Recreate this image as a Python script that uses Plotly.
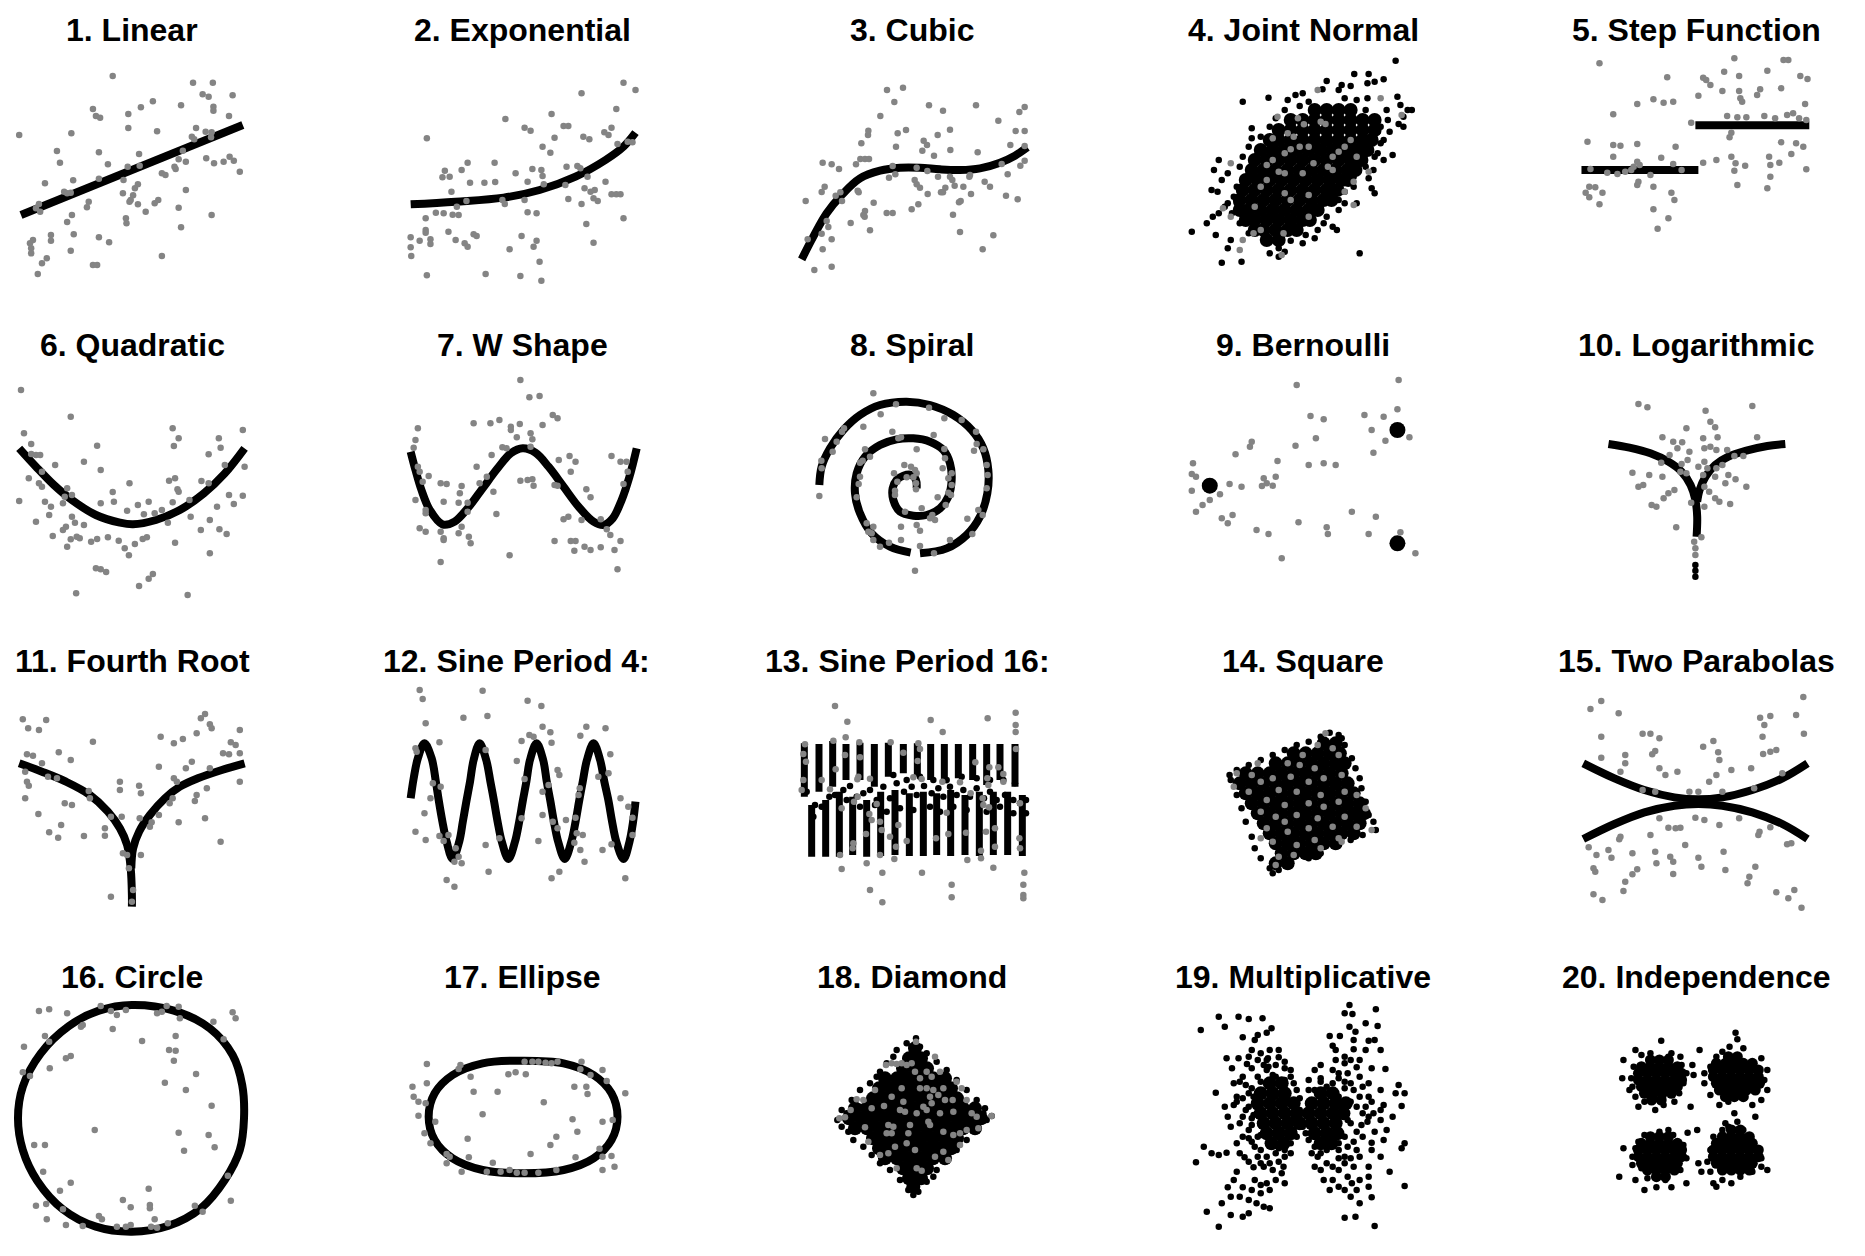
import plotly.graph_objects as go

W, H = 1865, 1256
GRAY = "#848484"

titles = ["1. Linear", "2. Exponential", "3. Cubic", "4. Joint Normal", "5. Step Function",
          "6. Quadratic", "7. W Shape", "8. Spiral", "9. Bernoulli", "10. Logarithmic",
          "11. Fourth Root", "12. Sine Period 4:", "13. Sine Period 16:", "14. Square", "15. Two Parabolas",
          "16. Circle", "17. Ellipse", "18. Diamond", "19. Multiplicative", "20. Independence"]

# ---------------- data (panel units) ----------------
p1_line = [(35,645),(405,375)]
p1_gray = [(188,228),(322,248),(355,248),(338,283),(348,290),(388,286),(255,304),(235,322),(214,342),(155,327),(160,348),(167,353),(356,320),(356,332),(302,316),(382,348),(32,405),(119,400),(214,384),(262,394),(327,384),(343,395),(353,397),(352,412),(320,410),(324,418),(95,453),(165,457),(232,462),(100,488),(180,493),(305,452),(298,478),(344,475),(357,490),(373,485),(383,470),(390,482),(400,515),(270,520),(276,525),(291,500),(293,507),(310,485),(122,541),(75,550),(165,536),(206,540),(230,553),(225,565),(205,580),(222,586),(218,600),(107,575),(112,580),(118,578),(148,605),(145,622),(230,613),(243,635),(258,610),(264,600),(216,605),(298,623),(310,570),(353,645),(210,655),(211,670),(120,645),(112,666),(65,612),(67,635),(60,625),(55,720),(50,730),(52,745),(52,760),(85,705),(85,722),(123,703),(165,712),(182,727),(118,752),(78,775),(70,790),(63,822),(155,795),(162,795),(270,768),(302,682),(213,500),(233,497)]

p2_curve = [(685,613),(760,605),(840,593),(900,570),(960,530),(1010,480),(1040,440),(1060,398)]
p2_gray = [(1040,248),(1060,270),(970,280),(1028,327),(920,342),(843,357),(875,383),(885,392),(940,378),(948,378),(1020,383),(1008,397),(1015,405),(925,413),(973,410),(983,418),(712,415),(905,440),(918,458),(1030,432),(1047,425),(1055,427),(780,488),(825,488),(742,512),(770,510),(738,532),(750,530),(888,507),(903,510),(945,500),(963,498),(968,505),(860,520),(880,545),(905,528),(907,553),(980,530),(1010,545),(784,548),(808,548),(826,546),(753,575),(943,555),(975,565),(985,575),(992,570),(1020,583),(1028,583),(1035,583),(778,603),(838,600),(842,612),(875,600),(948,597),(970,612),(990,595),(997,603),(762,620),(727,638),(740,640),(755,644),(765,645),(710,655),(880,637),(895,640),(710,690),(710,698),(685,712),(700,722),(718,718),(718,732),(685,742),(686,768),(748,695),(760,720),(775,730),(780,740),(790,703),(795,708),(870,708),(895,722),(890,740),(850,748),(978,672),(1040,655),(990,728),(900,785),(712,826),(810,822),(868,828),(903,842)]

p3_curve = [(65,658),(100,590),(140,520),(185,465),(240,415),(300,392),(360,383),(420,383),(480,388),(540,390),(600,385),(660,368),(705,347),(742,322)]
p3_gray = [(321,150),(369,143),(343,186),(447,196),(489,212),(588,196),(734,201),(718,216),(655,242),(301,228),(265,272),(264,285),(378,270),(353,280),(473,285),(510,269),(707,273),(734,273),(244,310),(348,320),(431,302),(441,315),(427,332),(511,330),(462,347),(593,337),(691,315),(734,318),(241,357),(255,357),(267,357),(128,368),(155,373),(177,387),(228,373),(338,378),(410,383),(442,393),(665,372),(721,377),(734,362),(327,413),(346,403),(474,410),(510,410),(517,420),(568,410),(570,405),(683,403),(404,420),(410,433),(420,443),(496,443),(489,457),(524,437),(550,440),(614,425),(630,440),(134,440),(125,456),(167,467),(181,457),(233,452),(236,457),(443,462),(483,457),(573,462),(678,467),(713,478),(77,483),(186,483),(281,488),(537,487),(542,483),(415,493),(395,508),(320,519),(338,519),(255,513),(250,525),(254,530),(519,524),(212,549),(140,543),(145,561),(270,571),(125,581),(540,576),(640,586),(83,598),(155,598),(128,628),(608,628),(103,690),(155,680)]

p4_black = [(785,182),(765,238),(750,245),(738,250),(716,222),(740,222),(710,258),(695,255),(690,270),(670,243),(663,268),(630,280),(618,285),(605,300),(573,293),(530,305),(625,318),(640,305),(700,295),(720,300),(738,295),(788,290),(793,315),(805,330),(812,330),(798,350),(790,372),(798,380),(770,330),(760,380),(755,395),(745,420),(760,430),(780,465),(765,480),(755,460),(748,510),(740,535),(750,580),(745,565),(720,610),(700,610),(690,630),(715,560),(687,690),(680,680),(665,670),(650,715),(630,730),(610,722),(600,755),(590,770),(575,760),(528,785),(495,788),(510,720),(485,705),(445,695),(470,670),(480,650),(490,640),(500,620),(478,570),(488,575),(495,540),(482,510),(490,480),(505,520),(515,590),(520,610),(545,385),(545,415),(540,440),(530,470),(525,500),(540,530),(560,560),(555,600),(560,640),(545,655),(565,680),(585,700),(600,690),(580,650),(585,620),(725,760),(590,745),(505,745),(600,330),(585,355),(575,380),(560,410),(735,330),(772,360),(775,395),(765,420),(750,470),(735,500),(715,530),(700,575),(690,600),(670,650),(655,690),(635,705),(540,700),(525,670),(512,640),(520,560),(505,610)]
p4_core = [(650,330),(670,330),(690,330),(710,330),
           (610,360),(630,360),(650,360),(670,360),(690,360),(710,360),(730,360),(750,360),
           (590,390),(610,390),(630,390),(650,390),(670,390),(690,390),(710,390),(730,390),(750,390),
           (575,420),(590,420),(610,420),(630,420),(650,420),(670,420),(690,420),(710,420),(730,420),(745,420),
           (560,450),(580,450),(600,450),(620,450),(640,450),(660,450),(680,450),(700,450),(720,450),(738,450),
           (550,480),(570,480),(590,480),(610,480),(630,480),(650,480),(670,480),(690,480),(710,480),(728,480),
           (545,510),(565,510),(585,510),(605,510),(625,510),(645,510),(665,510),(685,510),(705,510),(718,510),
           (535,540),(555,540),(575,540),(595,540),(615,540),(635,540),(655,540),(675,540),(695,540),(706,540),
           (530,570),(550,570),(570,570),(590,570),(610,570),(630,570),(650,570),(670,570),(688,570),
           (525,600),(545,600),(565,600),(585,600),(605,600),(625,600),(645,600),(665,600),(678,600),
           (525,630),(540,630),(560,630),(580,630),(600,630),(620,630),(640,630),(655,630),
           (535,660),(550,660),(570,660),(590,660),(610,660),(630,660),(642,660),
           (550,690),(565,690),(585,690),(605,690),(620,690),
           (570,720),(590,720)]
p4_gray = [(655,270),(760,295),(795,345),(588,350),(622,355),(632,373),(660,365),(668,372),(580,415),(605,400),(615,410),(640,440),(625,440),(610,448),(600,460),(580,480),(570,495),(590,515),(600,520),(630,520),(648,490),(680,470),(672,500),(690,455),(700,440),(710,420),(720,470),(740,515),(715,545),(700,575),(640,585),(600,580),(560,560),(550,620),(560,690),(548,700),(530,720),(525,750),(598,700),(595,765),(510,650),(497,625),(640,650),(715,615),(610,600),(680,510),(570,540),(510,490)]

p5_lines = [[(1095,510),(1290,510)], [(1285,376),(1475,376)]]
p5_gray = [(1125,190),(1350,175),(1432,180),(1440,180),(1238,232),(1298,233),(1303,240),(1333,215),(1358,228),(1405,212),(1460,228),(1472,237),(1310,255),(1290,287),(1330,273),(1358,273),(1393,268),(1388,285),(1428,265),(1188,312),(1215,298),(1232,308),(1248,305),(1360,295),(1363,305),(1468,312),(1148,343),(1338,348),(1355,352),(1370,352),(1400,348),(1418,355),(1438,345),(1448,340),(1458,355),(1470,360),(1278,368),(1345,398),(1342,412),(1105,425),(1148,435),(1160,437),(1188,432),(1252,440),(1148,470),(1188,485),(1192,495),(1228,473),(1248,492),(1298,488),(1320,480),(1345,470),(1352,490),(1368,497),(1408,470),(1410,495),(1425,488),(1445,462),(1465,440),(1428,427),(1453,430),(1470,508),(1350,512),(1110,507),(1138,518),(1155,522),(1168,515),(1178,510),(1182,500),(1210,525),(1262,510),(1190,545),(1188,555),(1215,560),(1108,560),(1118,562),(1102,578),(1130,578),(1108,592),(1245,578),(1250,600),(1125,613),(1215,628),(1240,655),(1222,686),(1355,555),(1405,565),(1410,530)]

p6_curve = [(32,385),(60,440),(90,495),(120,540),(160,585),(200,608),(222,613),(260,600),(300,570),(340,520),(375,460),(408,385)]
p6_gray = [(35,210),(118,290),(40,340),(52,372),(52,402),(60,405),(67,405),(162,377),(288,325),(298,355),(290,378),(405,330),(365,355),(368,383),(348,403),(375,435),(408,440),(92,435),(140,425),(168,450),(70,455),(48,475),(65,490),(70,500),(112,505),(120,525),(108,530),(105,550),(75,545),(85,560),(82,585),(32,543),(60,605),(110,620),(105,630),(120,590),(125,608),(140,615),(88,648),(118,658),(128,650),(133,655),(112,680),(152,665),(162,657),(180,652),(198,662),(208,685),(215,706),(225,672),(238,657),(245,652),(216,490),(188,516),(190,545),(168,550),(212,572),(230,555),(240,583),(248,545),(258,580),(270,570),(288,547),(296,508),(298,515),(282,482),(292,475),(316,540),(336,483),(348,490),(318,590),(350,600),(335,630),(366,628),(378,642),(362,560),(382,525),(390,552),(405,527),(280,608),(292,668),(350,700),(160,745),(168,748),(177,756),(255,762),(248,776),(232,798),(127,820),(313,825)]

p7_curve = [(685,395),(693,450),(703,510),(717,570),(738,613),(758,605),(780,565),(805,505),(830,445),(852,400),(872,385),(893,398),(915,440),(940,500),(965,560),(990,605),(1007,615),(1022,595),(1037,540),(1050,470),(1062,385)]
p7_gray = [(868,180),(883,232),(900,228),(697,325),(790,310),(818,310),(833,300),(852,320),(867,312),(852,330),(885,340),(905,315),(922,285),(930,295),(862,352),(690,383),(693,360),(888,358),(838,382),(845,385),(885,380),(820,405),(950,408),(932,420),(960,425),(1020,408),(1035,425),(1045,425),(697,440),(705,485),(700,455),(715,468),(735,490),(745,492),(795,440),(812,470),(800,490),(823,515),(770,498),(767,520),(868,482),(880,480),(888,478),(890,497),(925,495),(930,497),(952,455),(978,508),(985,532),(1047,455),(1040,492),(693,540),(710,570),(710,580),(740,545),(780,548),(765,548),(780,575),(828,582),(948,590),(940,598),(970,600),(1002,598),(1012,628),(700,625),(710,635),(735,635),(740,655),(770,620),(765,640),(740,660),(782,650),(785,670),(925,663),(952,663),(960,663),(975,680),(985,690),(1002,682),(958,692),(1025,690),(1035,663),(1018,645),(850,706),(735,726),(1030,748)]

p8_outer = [(420,580),(500,565),(560,525),(600,470),(622,400),(625,330),(610,265),(575,210),(520,165),(450,135),(380,125),(300,135),(240,165),(190,210),(150,265),(125,320),(118,375)]
p8_inner = [(392,578),(330,560),(275,520),(240,460),(225,400),(230,340),(255,290),(300,255),(350,238),(400,235),(450,245),(490,270),(510,310),(515,360),(505,410),(480,445),(440,465),(400,467),(360,455),(340,420),(338,385),(350,360),(370,347),(395,345),(408,360),(410,385)]
p8_gray = [(280,100),(348,133),(302,163),(447,143),(493,175),(545,180),(588,215),(250,200),(192,205),(186,215),(135,237),(170,245),(158,275),(124,302),(125,325),(118,408),(337,215),(355,235),(363,232),(461,225),(590,252),(610,268),(582,272),(255,268),(270,290),(248,302),(240,308),(410,268),(493,267),(495,295),(488,325),(515,340),(505,355),(515,375),(505,398),(513,405),(620,315),(623,345),(620,385),(240,350),(236,372),(230,412),(342,340),(373,315),(393,320),(405,330),(410,340),(400,352),(380,352),(352,365),(345,392),(345,405),(408,370),(408,388),(473,412),(497,435),(425,445),(375,455),(457,465),(465,480),(450,475),(595,450),(608,465),(562,476),(577,522),(510,540),(260,490),(280,500),(265,515),(275,520),(280,540),(300,560),(327,548),(363,500),(363,540),(410,495),(420,512),(420,558),(462,580),(405,632)]

p9_big = [(475,497),(788,330),(788,670)]
p9_gray = [(620,195),(790,180),(788,268),(733,285),(765,290),(643,288),(665,298),(745,330),(808,352),(768,362),(652,355),(545,365),(542,380),(618,377),(518,403),(748,398),(588,423),(640,435),(665,430),(685,435),(447,430),(445,462),(452,470),(445,512),(508,492),(528,500),(565,475),(585,470),(570,490),(580,497),(562,498),(492,523),(475,540),(463,555),(452,575),(495,595),(505,610),(513,585),(712,575),(752,590),(623,607),(670,622),(672,642),(553,630),(573,642),(740,642),(793,637),(818,700),(595,715)]

p10_lines = [[(1140,372),(1175,383),(1210,400),(1240,425),(1262,455),(1277,495),(1285,540),(1288,590),(1287,650)],
             [(1435,372),(1405,378),(1370,392),(1340,410),(1318,435),(1302,470),(1292,510),(1288,545)]]
p10_black = [(1285,735),(1285,752),(1285,770)]
p10_gray = [(1190,252),(1205,262),(1302,272),(1380,258),(1310,305),(1318,322),(1270,325),(1230,352),(1248,365),(1263,367),(1298,355),(1322,352),(1388,352),(1255,385),(1242,405),(1275,395),(1300,385),(1310,380),(1320,390),(1338,390),(1350,408),(1365,408),(1228,428),(1262,432),(1272,420),(1290,440),(1300,425),(1305,445),(1320,445),(1330,435),(1180,458),(1208,465),(1230,470),(1260,455),(1270,460),(1298,465),(1318,470),(1340,465),(1352,478),(1335,490),(1370,500),(1190,500),(1198,495),(1250,510),(1240,520),(1232,535),(1300,500),(1308,515),(1318,535),(1325,545),(1343,552),(1212,555),(1220,560),(1278,548),(1300,560),(1253,622),(1295,652),(1283,665),(1285,685),(1285,705)]

p11_lines = [[(32,385),(70,410),(110,440),(150,480),(180,530),(200,580),(212,630),(218,700),(220,780),(220,815)],
             [(408,385),(370,405),(330,430),(300,455),(275,490),(250,540),(232,590),(222,640),(219,700)]]
p11_gray = [(38,253),(47,280),(65,285),(77,255),(342,237),(335,250),(350,268),(353,280),(328,295),(400,285),(268,305),(290,325),(305,312),(155,320),(385,322),(393,330),(98,352),(118,375),(45,358),(55,362),(70,385),(372,355),(382,358),(400,355),(320,380),(265,395),(310,400),(350,400),(42,410),(80,425),(95,430),(290,430),(295,440),(400,440),(345,460),(45,440),(48,452),(200,440),(232,452),(42,490),(108,505),(120,510),(148,468),(150,490),(200,465),(235,475),(288,490),(283,505),(328,480),(325,498),(342,550),(64,537),(185,545),(203,545),(233,550),(250,575),(253,562),(265,540),(102,570),(82,592),(97,608),(140,603),(175,602),(175,580),(298,562),(368,620),(205,655),(212,660),(235,660),(215,700),(222,765),(185,785),(220,800)]

p12_curve = [(685,490),(690,430),(697,370),(708,325),(720,370),(727,440),(732,498),(738,560),(745,620),(755,672),(766,620),(772,560),(778,498),(784,440),(790,375),(800,325),(811,375),(818,440),(824,498),(830,560),(837,620),(848,672),(859,620),(866,560),(872,498),(878,440),(884,375),(895,325),(906,375),(912,440),(918,498),(924,560),(931,620),(942,672),(953,620),(960,560),(966,498),(972,440),(979,375),(990,325),(1001,375),(1008,440),(1015,498),(1021,560),(1028,620),(1040,672),(1050,620),(1056,560),(1060,500)]
p12_gray = [(700,165),(705,192),(805,167),(880,197),(903,213),(710,265),(773,248),(813,243),(905,275),(918,292),(883,300),(890,305),(978,275),(968,302),(1010,280),(693,340),(695,350),(733,322),(870,318),(920,323),(810,345),(1018,358),(862,378),(875,432),(930,405),(933,420),(915,450),(905,470),(998,425),(1015,415),(967,460),(965,480),(1035,490),(1048,515),(1055,548),(722,445),(735,455),(718,490),(708,535),(870,550),(905,540),(922,560),(944,555),(960,548),(930,580),(962,595),(972,600),(693,590),(710,615),(733,603),(740,618),(760,640),(748,600),(810,630),(833,610),(898,618),(958,623),(1020,628),(1055,600),(1005,645),(765,665),(770,685),(758,680),(968,645),(975,680),(815,710),(920,730),(933,710),(1043,730),(745,735),(758,755)]

# period-16 columns: x, top, bottom
p13_upper_x = [73,117,158,198,240,283,325,370,412,452,493,535,578,620,660,705]
p13_upper_top = [190,192,183,192,188,192,188,192,190,192,192,192,192,192,192,192]
p13_upper_bot = [350,335,320,300,300,320,290,280,290,300,310,295,300,315,300,320]
p13_lower_x = [95,137,178,218,260,302,345,388,430,470,512,555,598,640,683,727]
p13_lower_top = [375,360,335,350,360,335,330,340,335,340,330,345,335,335,335,345]
p13_lower_bot = [530,530,530,525,530,528,525,528,528,525,528,525,528,525,525,528]
p13_black = [(105,375),(125,380),(165,345),(190,330),(210,318),(230,350),(250,340),(270,330),(290,360),(310,320),(330,355),(350,310),(372,335),(395,320),(410,345),(432,318),(455,340),(475,325),(490,350),(510,320),(530,345),(550,330),(570,350),(590,325),(612,355),(630,335),(650,360),(675,345),(700,360),(720,370),(738,360),(80,335),(100,410),(148,350),(240,380),(200,360),(285,375),(320,395),(360,385),(400,390),(450,380),(480,395),(520,380),(560,390),(620,395),(660,380),(700,400),(738,400),(340,285),(380,300),(420,290),(460,300),(500,300),(545,290),(590,295),(630,300),(670,300),(705,310)]
p13_gray = [(165,78),(202,125),(452,120),(488,156),(623,115),(707,98),(707,135),(707,156),(197,172),(238,187),(332,187),(75,193),(70,222),(78,245),(195,225),(160,182),(240,232),(370,218),(420,207),(413,243),(415,190),(586,247),(628,262),(655,262),(708,207),(622,295),(625,315),(670,282),(670,305),(125,300),(150,328),(167,268),(232,298),(270,296),(233,350),(235,290),(400,292),(425,297),(487,305),(540,307),(572,340),(608,355),(610,375),(627,382),(720,370),(65,330),(70,300),(222,365),(185,385),(290,372),(268,402),(300,425),(305,450),(275,420),(258,462),(330,470),(355,435),(348,500),(380,483),(468,475),(505,462),(500,398),(558,458),(618,455),(645,445),(645,500),(718,475),(720,505),(640,563),(603,512),(603,535),(180,525),(220,490),(218,505),(260,550),(300,525),(343,537),(562,540),(185,567),(307,578),(426,578),(515,614),(515,652),(733,578),(730,614),(730,645),(730,655),(270,630),(307,667)]

p14_black = [(690,300),(675,293),(660,305),(640,320),(620,330),(600,345),(580,360),(560,375),(540,390),(520,405),(508,420),(510,435),(545,605),(550,640),(560,670),(575,700),(580,715),(590,705),(610,690),(640,670),(660,655),(690,630),(710,615),(730,600),(752,585),(748,560),(740,540),(735,500),(728,460),(725,430),(718,400),(712,370),(700,330),(695,310),(530,440),(535,560),(520,480),(528,520)]
p14_core = [(665,325),(685,325),
            (615,355),(635,355),(655,355),(675,355),(692,355),
            (585,385),(605,385),(625,385),(645,385),(665,385),(685,385),(700,385),
            (535,415),(555,415),(575,415),(595,415),(615,415),(635,415),(655,415),(675,415),(695,415),
            (525,445),(545,445),(565,445),(585,445),(605,445),(625,445),(645,445),(665,445),(685,445),(705,445),
            (535,475),(555,475),(575,475),(595,475),(615,475),(635,475),(655,475),(675,475),(695,475),(715,475),
            (545,505),(565,505),(585,505),(605,505),(625,505),(645,505),(665,505),(685,505),(705,505),(725,505),
            (555,535),(575,535),(595,535),(615,535),(635,535),(655,535),(675,535),(695,535),(715,535),(732,535),
            (565,565),(585,565),(605,565),(625,565),(645,565),(665,565),(685,565),(705,565),(725,565),
            (575,595),(595,595),(615,595),(635,595),(655,595),(675,595),(695,595),(715,595),
            (585,625),(605,625),(625,625),(645,625),(665,625),(685,625),
            (595,655),(615,655),(635,655),(652,655),
            (585,685),(605,685)]
p14_gray = [(668,295),(655,330),(680,340),(690,360),(555,385),(605,385),(625,390),(520,415),(545,420),(560,440),(580,430),(610,425),(640,440),(665,430),(695,420),(590,465),(620,470),(660,480),(700,470),(720,480),(570,495),(600,510),(640,505),(665,515),(690,500),(560,530),(585,545),(620,540),(655,550),(700,545),(570,580),(605,590),(640,580),(680,575),(720,575),(580,620),(620,630),(650,615),(690,610),(590,665),(615,660),(660,640),(695,620),(745,585),(735,520),(515,455),(540,470),(630,360),(650,400),(600,560),(560,610),(585,690)]

p15_upper = [(1098,385),(1150,430),(1200,465),(1250,487),(1290,493),(1330,487),(1380,465),(1430,430),(1472,385)]
p15_lower = [(1098,612),(1150,567),(1200,532),(1250,512),(1290,507),(1330,512),(1380,532),(1430,567),(1472,612)]
p15_gray = [(1128,198),(1110,222),(1157,235),(1393,248),(1410,243),(1453,240),(1465,186),(1400,270),(1128,305),(1197,296),(1210,296),(1225,310),(1466,296),(1298,335),(1315,318),(1323,352),(1325,375),(1218,348),(1213,358),(1128,368),(1168,360),(1168,385),(1398,357),(1410,350),(1420,345),(1378,400),(1345,405),(1320,420),(1308,440),(1225,400),(1255,410),(1235,420),(1160,410),(1430,415),(1330,470),(1383,460),(1290,470),(1275,470),(1218,470),(1197,465),(1300,555),(1285,548),(1325,570),(1358,550),(1225,550),(1240,578),(1260,578),(1252,580),(1210,600),(1160,605),(1158,613),(1392,590),(1390,600),(1410,577),(1438,628),(1445,625),(1268,630),(1332,650),(1107,637),(1140,645),(1120,660),(1145,668),(1218,650),(1220,685),(1243,665),(1248,680),(1180,655),(1290,668),(1295,695),(1335,705),(1248,717),(1188,703),(1180,718),(1168,740),(1165,768),(1115,700),(1118,710),(1385,695),(1375,725),(1372,745),(1420,772),(1450,765),(1440,790),(1462,818),(1115,778),(1130,795),(1397,305)]

p16_curve = [(220,165),(290,182),(350,235),(388,315),(404,405),(407,505),(400,600),(375,690),(335,775),(280,828),(220,845),(160,830),(105,778),(62,692),(38,600),(30,505),(38,410),(68,310),(115,228),(165,182),(220,165)]
p16_gray = [(65,183),(82,178),(112,190),(168,168),(185,183),(195,195),(210,180),(262,190),(270,185),(278,168),(298,170),(300,205),(135,230),(138,225),(188,237),(237,273),(293,258),(356,215),(388,187),(393,205),(373,268),(75,258),(82,275),(40,290),(110,325),(118,318),(282,300),(293,302),(290,332),(83,355),(38,367),(50,378),(327,372),(275,398),(310,420),(353,467),(158,540),(298,548),(348,555),(358,592),(307,602),(57,585),(75,585),(72,665),(380,677),(118,698),(100,722),(248,716),(205,750),(218,772),(250,765),(250,775),(60,767),(77,762),(385,752),(325,767),(338,785),(105,778),(78,808),(110,825),(138,828),(165,798),(170,808),(195,830),(210,830),(218,825),(258,808),(262,833),(252,830),(280,820)]

p17_curve = [(872,332),(940,340),(990,375),(1020,430),(1030,500),(1020,570),(990,625),(940,660),(872,670),(805,660),(755,625),(725,570),(715,500),(725,430),(755,375),(805,340),(872,332)]
p17_gray = [(712,342),(768,345),(765,357),(785,380),(848,373),(860,367),(877,373),(875,335),(888,335),(898,335),(910,338),(920,340),(930,335),(970,335),(968,358),(985,375),(1005,360),(1012,393),(688,410),(712,400),(958,410),(978,410),(980,432),(1043,430),(690,440),(698,455),(710,460),(790,425),(830,425),(907,457),(805,493),(698,497),(726,515),(955,508),(963,545),(1005,515),(1022,510),(708,550),(718,580),(780,566),(928,560),(918,585),(745,612),(750,620),(782,622),(745,640),(822,638),(885,612),(960,622),(1000,596),(1005,620),(1020,618),(1005,660),(1025,650),(770,665),(812,665),(835,665),(850,660),(862,668),(875,668),(898,668),(928,660)]

p18_black = [(408,115),(395,140),(350,150),(380,130),(300,215),(270,250),(240,270),(215,300),(185,330),(172,360),(185,380),(205,395),(220,420),(250,440),(275,465),(300,490),(330,510),(360,540),(385,570),(400,585),(415,575),(440,545),(470,510),(500,480),(530,450),(560,420),(590,390),(620,360),(635,348),(615,325),(590,300),(560,270),(530,240),(500,210),(470,185),(440,160),(420,140),(340,170),(240,320),(460,530),(570,380),(290,230),(320,190),(200,340),(610,340)]
p18_core = [(405,145),
            (387,175),(423,175),
            (369,205),(405,205),(441,205),
            (315,235),(351,235),(387,235),(423,235),(459,235),(495,235),
            (297,265),(333,265),(369,265),(405,265),(441,265),(477,265),(513,265),
            (279,295),(315,295),(351,295),(387,295),(423,295),(459,295),(495,295),(531,295),
            (225,325),(261,325),(297,325),(333,325),(369,325),(405,325),(441,325),(477,325),(513,325),(549,325),(585,325),
            (207,355),(243,355),(279,355),(315,355),(351,355),(387,355),(423,355),(459,355),(495,355),(531,355),(567,355),(603,355),
            (225,385),(261,385),(297,385),(333,385),(369,385),(405,385),(441,385),(477,385),(513,385),(549,385),(585,385),
            (279,415),(315,415),(351,415),(387,415),(423,415),(459,415),(495,415),(531,415),
            (297,445),(333,445),(369,445),(405,445),(441,445),(477,445),(513,445),
            (315,475),(351,475),(387,475),(423,475),(459,475),(495,475),
            (369,505),(405,505),(441,505),
            (387,535),(423,535),
            (400,560)]
p18_gray = [(408,125),(465,170),(318,195),(335,190),(350,192),(365,190),(380,195),(395,190),(405,215),(420,235),(440,215),(455,230),(480,215),(530,245),(545,265),(365,265),(420,265),(440,265),(460,270),(490,265),(285,270),(230,298),(250,300),(335,290),(450,290),(475,285),(495,300),(518,300),(560,300),(212,330),(275,325),(312,318),(370,305),(360,330),(375,335),(410,340),(430,320),(440,330),(455,310),(480,340),(520,335),(575,340),(590,350),(635,348),(178,355),(195,352),(255,382),(325,375),(340,380),(390,375),(385,400),(445,365),(450,375),(490,395),(520,405),(540,400),(560,390),(595,385),(265,425),(320,400),(335,400),(345,440),(380,430),(405,450),(300,465),(325,460),(350,505),(410,505),(425,512),(465,470),(490,455),(505,480),(540,435)]

p19_black = [(490,200),(523,200),(540,207),(563,205),(500,230),(460,240),(578,235),(570,248),(530,262),(550,270),(555,255),(545,300),(503,325),(523,325),(572,325),(590,322),(512,355),(537,342),(545,355),(573,350),(525,395),(535,405),(545,415),(485,428),(515,465),(520,455),(535,480),(545,505),(510,530),(525,520),(545,525),(540,565),(545,575),(550,590),(520,580),(465,590),(478,610),(490,615),(503,608),(452,637),(533,622),(540,635),(548,652),(565,650),(580,660),(598,650),(575,640),(555,620),(585,610),(600,600),(520,665),(515,690),(505,712),(510,740),(530,712),(545,720),(560,730),(553,760),(565,770),(575,775),(540,790),(530,800),(510,795),(495,760),(470,785),(490,830),(550,690),(570,700),(585,690),
             (708,165),(752,178),(700,190),(713,192),(735,220),(755,228),(708,230),(718,245),(715,270),(740,272),(750,270),(680,287),(685,300),(715,298),(735,300),(760,300),(685,330),(700,340),(720,352),(705,370),(725,380),(768,357),(745,355),(790,405),(800,430),(785,430),(760,420),(740,440),(745,455),(765,465),(795,468),(760,510),(738,515),(728,525),(750,545),(765,570),(745,578),(800,580),(795,595),(720,600),(700,620),(690,625),(670,640),(715,650),(740,650),(775,665),(680,690),(705,680),(712,700),(725,690),(740,680),(720,720),(700,720),(745,742),(725,760),(718,800),(700,803),(750,828),(800,708),(692,258),(675,258),
             (540,430),(530,445),(600,390),(610,380),(620,420),(625,445),(640,390),(660,385),(700,395),(715,420),(720,470),(730,490),(710,520),(720,545),(700,560),(705,590),(690,580),(640,570),(620,560),(610,580),(600,620),(560,600),(555,560),(540,540),(530,500),(540,470),(570,360),(580,375),(555,380),(600,355),(680,360),(670,410),(625,480),(650,420),(665,445),(690,440),(710,455),(585,440),(605,450),(615,505),(630,530),(640,510),(635,550),(595,540),(580,525),(680,560),(690,600),(660,610),(650,590),(570,330),(590,300),(560,310),(690,370),(710,400),
             (555,330),(565,345),(585,345),(600,335),(610,360),(560,395),(548,440),(552,470),(565,495),(548,495),(560,525),(575,545),(560,555),(578,575),(590,595),(570,620),(590,635),(605,560),(615,540),(610,610),(530,560),(525,610),(560,640),(595,670),(575,720),(540,750),(525,740),(605,430),(615,400),(585,380),(530,380),(515,400),(500,470),(505,500),(520,440),(575,300),(540,320),(600,700),(560,705),
             (650,360),(660,345),(700,320),(710,330),(725,330),(690,385),(700,415),(730,410),(740,400),(725,440),(735,470),(748,490),(740,500),(730,560),(715,575),(725,620),(700,640),(680,650),(660,660),(690,660),(710,625),(670,600),(655,620),(745,600),(760,620),(770,540),(780,500),(760,480),(690,710),(675,720),(710,740),(740,710),(665,690),(650,650),(645,610),(690,540),(705,510),(680,400),(660,395),(640,420)]
p19_core = [(575,400),(595,400),
            (560,430),(580,430),(600,430),(660,430),(680,430),
            (555,460),(575,460),(595,460),(615,460),(645,460),(665,460),(685,460),(702,460),
            (560,490),(580,490),(600,490),(620,490),(640,490),(660,490),(680,490),(698,490),
            (565,520),(585,520),(605,520),(625,520),(645,520),(665,520),(685,520),
            (570,550),(590,550),(610,550),(650,550),(670,550),(688,550),
            (578,580),(598,580),(660,580),(678,580)]

p20_core = [(1210,330),(1225,330),(1240,330),(1195,350),(1210,350),(1225,350),(1240,350),(1255,350),
            (1190,370),(1205,370),(1220,370),(1235,370),(1250,370),(1262,370),(1190,390),(1205,390),(1220,390),(1235,390),(1250,390),(1262,390),
            (1195,410),(1210,410),(1225,410),(1240,410),(1255,410),(1200,430),(1215,430),(1230,430),(1245,430),(1212,450),(1228,450),
            (1340,320),(1355,320),(1320,340),(1335,340),(1350,340),(1365,340),(1380,340),(1315,360),(1330,360),(1345,360),(1360,360),(1375,360),(1390,360),
            (1315,380),(1330,380),(1345,380),(1360,380),(1375,380),(1390,380),(1320,400),(1335,400),(1350,400),(1365,400),(1380,400),(1392,400),
            (1325,420),(1340,420),(1355,420),(1370,420),(1385,420),(1335,440),(1350,440),(1365,440),
            (1210,560),(1225,560),(1240,560),(1195,580),(1210,580),(1225,580),(1240,580),(1255,580),
            (1190,600),(1205,600),(1220,600),(1235,600),(1250,600),(1262,600),(1190,620),(1205,620),(1220,620),(1235,620),(1250,620),(1262,620),
            (1195,640),(1210,640),(1225,640),(1240,640),(1255,640),(1205,660),(1220,660),(1235,660),(1250,660),(1220,680),(1235,680),
            (1345,540),(1360,540),(1330,560),(1345,560),(1360,560),(1375,560),(1320,580),(1335,580),(1350,580),(1365,580),(1380,580),
            (1315,600),(1330,600),(1345,600),(1360,600),(1375,600),(1390,600),(1315,620),(1330,620),(1345,620),(1360,620),(1375,620),(1390,620),
            (1320,640),(1335,640),(1350,640),(1365,640),(1380,640),(1330,660),(1345,660),(1360,660),(1375,660)]
p20_black = [(1165,330),(1178,385),(1163,385),(1185,300),(1195,315),(1228,272),(1245,310),(1260,320),(1175,420),(1185,440),(1200,455),(1218,480),(1232,465),(1250,455),(1258,430),(1265,400),(1270,370),(1262,345),(1182,350),(1190,470),(1240,320),(1210,310),(1180,410),(1277,470),(1280,345),
             (1352,248),(1355,268),(1342,290),(1365,295),(1330,305),(1320,320),(1395,325),(1310,350),(1300,370),(1300,400),(1310,435),(1325,465),(1350,490),(1380,465),(1395,450),(1405,420),(1400,390),(1405,360),(1385,500),(1335,520),(1330,540),(1292,300),(1282,375),(1340,455),
             (1200,555),(1190,575),(1185,595),(1165,595),(1180,620),(1180,645),(1195,655),(1205,685),(1200,720),(1220,712),(1245,712),(1235,690),(1260,660),(1270,625),(1265,585),(1240,540),(1248,555),(1225,545),(1158,680),(1185,690),(1272,548),(1288,540),(1270,700),
             (1340,530),(1355,515),(1315,560),(1310,600),(1305,635),(1310,665),(1330,690),(1320,710),(1345,700),(1360,680),(1380,665),(1395,650),(1395,625),(1385,595),(1375,560),(1365,540),(1290,640),(1295,665),(1405,660),(1315,700)]

# ---------------- layout helpers ----------------
def wide(x0, y0):
    return (x0, y0, 1.668, 3.0)

def narrow(y0):
    return (780, y0, 3.0, 3.0)

def col_lines(xs, tops, bots):
    return [[(x, t), (x, b)] for x, t, b in zip(xs, tops, bots)]

panels = [
    (wide(0, 0), [("line", [p1_line]), ("gray", p1_gray)]),
    (wide(0, 0), [("curve", [p2_curve]), ("gray", p2_gray)]),
    (narrow(40), [("curve", [p3_curve]), ("gray", p3_gray)]),
    (wide(925, 0), [("core", p4_core), ("black", p4_black), ("gray", p4_gray)]),
    (wide(925, 0), [("line", p5_lines), ("gray", p5_gray)]),
    (wide(0, 320), [("curve", [p6_curve]), ("gray", p6_gray)]),
    (wide(0, 320), [("curve", [p7_curve]), ("gray", p7_gray)]),
    (narrow(360), [("curve", [p8_outer, p8_inner]), ("gray", p8_gray)]),
    (wide(925, 320), [("big", p9_big), ("gray", p9_gray)]),
    (wide(925, 320), [("curve", p10_lines), ("black", p10_black), ("gray", p10_gray)]),
    (wide(0, 635), [("curve", p11_lines), ("gray", p11_gray)]),
    (wide(0, 635), [("curve", [p12_curve]), ("gray", p12_gray)]),
    (narrow(680), [("col", col_lines(p13_upper_x, p13_upper_top, p13_upper_bot) + col_lines(p13_lower_x, p13_lower_top, p13_lower_bot)),
                   ("black", p13_black), ("gray", p13_gray)]),
    (wide(925, 635), [("core", p14_core), ("black", p14_black), ("gray", p14_gray)]),
    (wide(925, 635), [("curve", [p15_upper, p15_lower]), ("gray", p15_gray)]),
    (wide(0, 950), [("curve", [p16_curve]), ("gray", p16_gray)]),
    (wide(0, 950), [("curve", [p17_curve]), ("gray", p17_gray)]),
    (narrow(1000), [("core", p18_core), ("black", p18_black), ("gray", p18_gray)]),
    (wide(925, 950), [("core", p19_core), ("black", p19_black)]),
    (wide(925, 950), [("core_s", p20_core), ("black", p20_black)]),
]

title_x = [132, 522, 912, 1303, 1696]
title_x_override = {11: 516, 12: 907}
title_base = [42, 357, 673, 989]

fig = go.Figure()
layout = dict(width=W, height=H, margin=dict(l=0, r=0, t=0, b=0),
              paper_bgcolor="white", plot_bgcolor="white", showlegend=False)
annotations = []

for i, (frame, layers) in enumerate(panels):
    X0, Y0, sx, sy = frame
    xs, ys = [], []
    for kind, data in layers:
        pts = [p for seg in data for p in seg] if kind in ("line", "curve", "col") else data
        xs += [p[0] for p in pts]
        ys += [p[1] for p in pts]
    pad = 12
    left = max(0.0, X0 + min(xs) / sx - pad)
    right = min(W, X0 + max(xs) / sx + pad)
    top = max(0.0, Y0 + min(ys) / sy - pad)
    bottom = min(H, Y0 + max(ys) / sy + pad)
    n = i + 1
    ax = "xaxis" if n == 1 else f"xaxis{n}"
    ay = "yaxis" if n == 1 else f"yaxis{n}"
    layout[ax] = dict(domain=[left / W, right / W], range=[(left - X0) * sx, (right - X0) * sx],
                      visible=False, fixedrange=True, anchor=f"y{'' if n == 1 else n}")
    layout[ay] = dict(domain=[1 - bottom / H, 1 - top / H], range=[(bottom - Y0) * sy, (top - Y0) * sy],
                      visible=False, fixedrange=True, anchor=f"x{'' if n == 1 else n}")
    xref = "x" if n == 1 else f"x{n}"
    yref = "y" if n == 1 else f"y{n}"
    for kind, data in layers:
        if kind in ("line", "curve", "col"):
            lx, ly = [], []
            for seg in data:
                lx += [p[0] for p in seg] + [None]
                ly += [p[1] for p in seg] + [None]
            width = 7 if kind == "col" else 8
            fig.add_trace(go.Scatter(x=lx, y=ly, mode="lines", xaxis=xref, yaxis=yref,
                                     line=dict(color="black", width=width,
                                               shape="spline" if kind == "curve" else "linear", smoothing=1.0),
                                     hoverinfo="skip", connectgaps=False))
        else:
            size = {"gray": 6.5, "black": 6.5, "core": 14, "core_s": 11, "big": 16}[kind]
            color = GRAY if kind == "gray" else "black"
            fig.add_trace(go.Scatter(x=[p[0] for p in data], y=[p[1] for p in data], mode="markers",
                                     xaxis=xref, yaxis=yref, cliponaxis=False,
                                     marker=dict(color=color, size=size, line=dict(width=0)),
                                     hoverinfo="skip"))
    r, c = divmod(i, 5)
    tx = title_x_override.get(i, title_x[c])
    annotations.append(dict(text=f"<b>{titles[i]}</b>", x=tx / W, y=1 - (title_base[r] + 8) / H,
                            xref="paper", yref="paper", xanchor="center", yanchor="bottom",
                            showarrow=False, font=dict(family="Liberation Sans, Arial, sans-serif",
                                                       size=32, color="black")))

layout["annotations"] = annotations
fig.update_layout(**layout)
fig.write_html("out.html")
